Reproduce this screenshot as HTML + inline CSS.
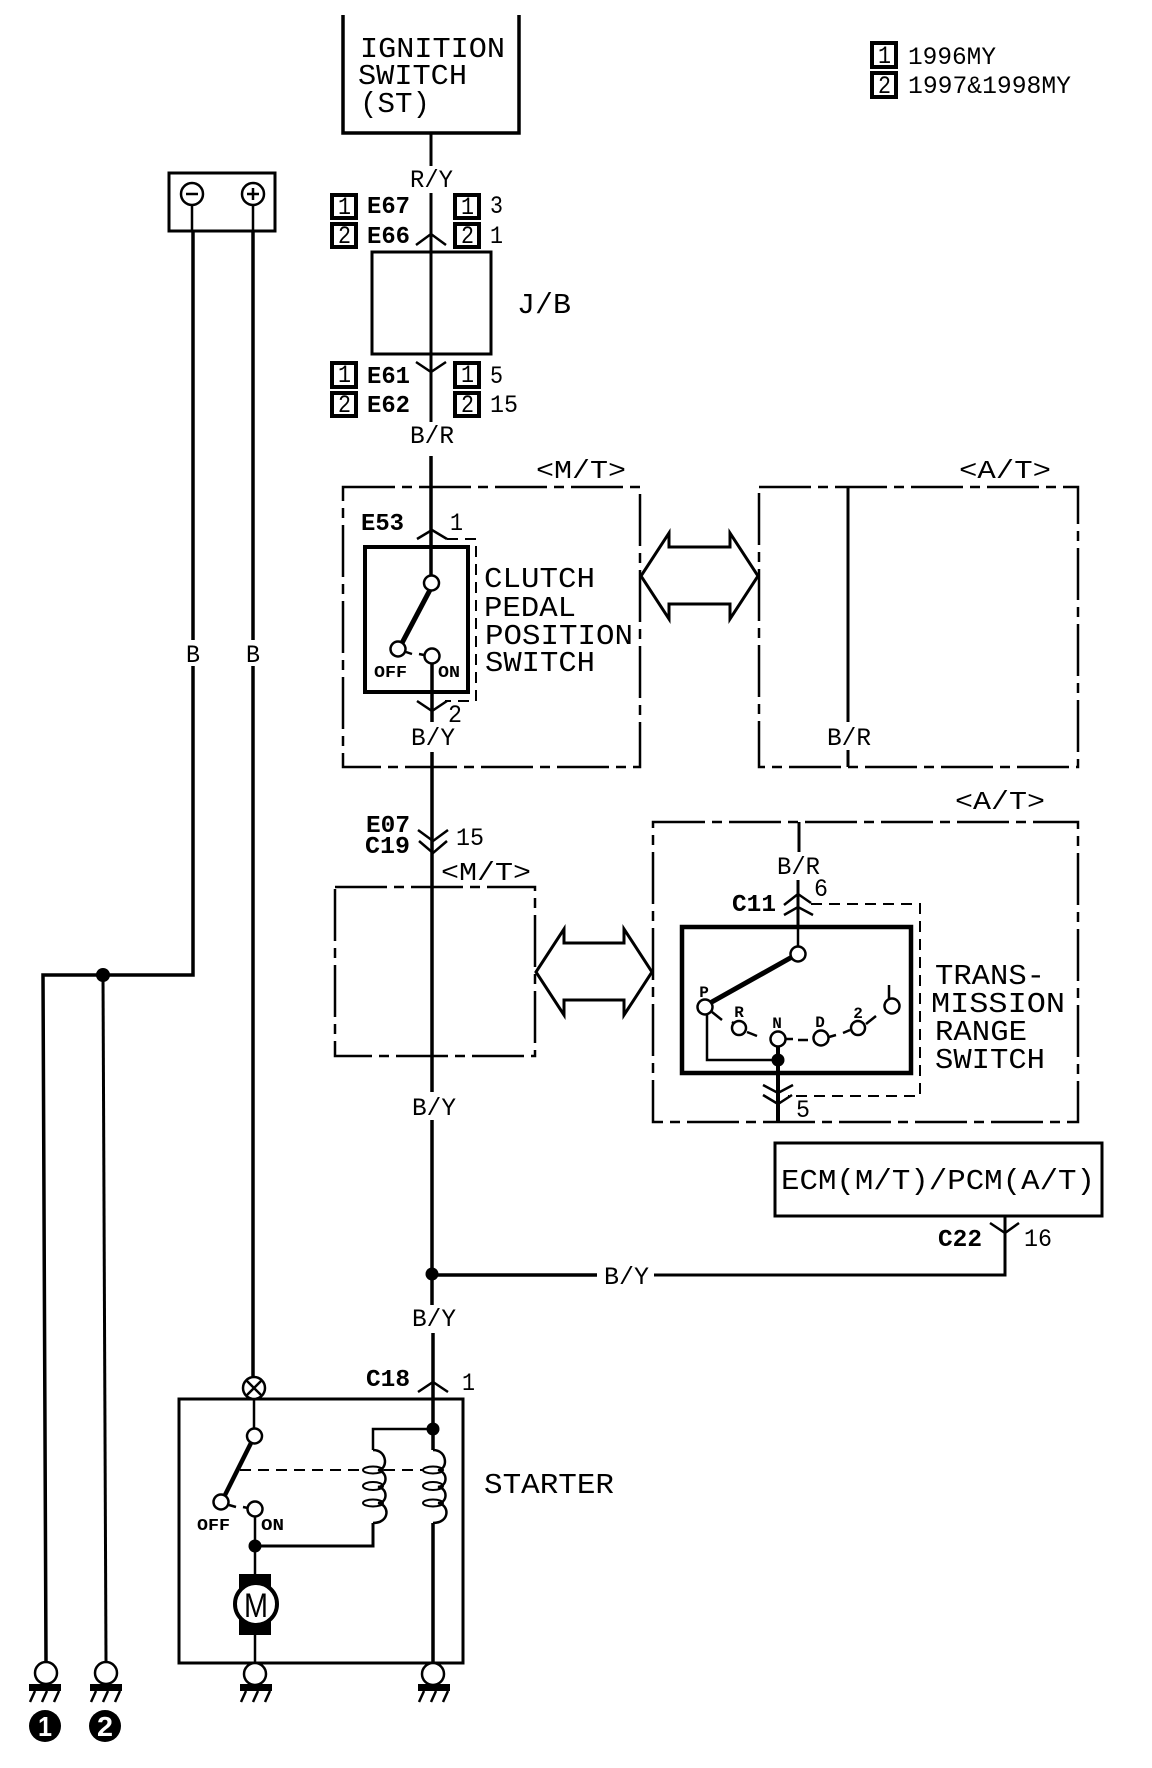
<!DOCTYPE html>
<html>
<head>
<meta charset="utf-8">
<style>
html,body{margin:0;padding:0;background:#fff;}
svg{display:block;}
text{font-family:"Liberation Mono",monospace;fill:#000;}
.b{font-size:24px;font-weight:bold;}
.n{font-size:25px;}
.l{font-size:29px;}
.s{font-size:17px;font-weight:bold;}
.t{font-size:16px;font-weight:bold;text-anchor:middle;}
.w{fill:none;stroke:#000;stroke-width:3;}
.th{fill:none;stroke:#000;stroke-width:4;}
.tn{fill:none;stroke:#000;stroke-width:2.5;}
.dd{fill:none;stroke:#000;stroke-width:2.5;stroke-dasharray:52 7 10 7;}
.d{fill:none;stroke:#000;stroke-width:2;stroke-dasharray:11 7;}
.c{fill:#fff;stroke:#000;stroke-width:2.5;}
.k{fill:#000;}
.bx{fill:#fff;stroke:#000;stroke-width:4;}
</style>
</head>
<body>
<svg xmlns="http://www.w3.org/2000/svg" width="1152" height="1768" viewBox="0 0 1152 1768">
<rect width="1152" height="1768" fill="#fff"/>

<!-- legend -->
<rect class="bx" x="872" y="43" width="24" height="24"/>
<rect class="bx" x="872" y="73" width="24" height="24"/>
<text class="n" x="878" y="63" textLength="13" lengthAdjust="spacingAndGlyphs">1</text>
<text class="n" x="878" y="93" textLength="13" lengthAdjust="spacingAndGlyphs">2</text>
<text class="n" x="908" y="64" textLength="88" lengthAdjust="spacingAndGlyphs">1996MY</text>
<text class="n" x="908" y="93" textLength="163" lengthAdjust="spacingAndGlyphs">1997&amp;1998MY</text>

<!-- ignition -->
<path class="w" d="M343 15V133H519V15" style="stroke-width:3.5"/>
<text class="l" x="360" y="57" textLength="145" lengthAdjust="spacingAndGlyphs">IGNITION</text>
<text class="l" x="358" y="84" textLength="109" lengthAdjust="spacingAndGlyphs">SWITCH</text>
<text class="l" x="360" y="112" textLength="70" lengthAdjust="spacingAndGlyphs">(ST)</text>
<path class="w" d="M431 133V166M431 193V422"/>
<text class="n" x="410" y="187" textLength="43" lengthAdjust="spacingAndGlyphs">R/Y</text>
<path class="tn" d="M416 245L431 234L446 245M416 362L431 372L446 362"/>
<rect class="w" x="372" y="252" width="119" height="102"/>
<text class="l" x="517" y="313" textLength="54" lengthAdjust="spacingAndGlyphs">J/B</text>

<!-- connector labels -->
<g>
<rect class="bx" x="332" y="195" width="24" height="23"/>
<rect class="bx" x="332" y="224" width="24" height="23"/>
<rect class="bx" x="332" y="363" width="24" height="24"/>
<rect class="bx" x="332" y="393" width="24" height="23"/>
<rect class="bx" x="455" y="195" width="24" height="23"/>
<rect class="bx" x="455" y="224" width="24" height="23"/>
<rect class="bx" x="455" y="363" width="24" height="24"/>
<rect class="bx" x="455" y="393" width="24" height="23"/>
<text class="n" x="338" y="214" textLength="13" lengthAdjust="spacingAndGlyphs">1</text>
<text class="n" x="338" y="243" textLength="13" lengthAdjust="spacingAndGlyphs">2</text>
<text class="n" x="338" y="382" textLength="13" lengthAdjust="spacingAndGlyphs">1</text>
<text class="n" x="338" y="412" textLength="13" lengthAdjust="spacingAndGlyphs">2</text>
<text class="n" x="461" y="214" textLength="13" lengthAdjust="spacingAndGlyphs">1</text>
<text class="n" x="461" y="243" textLength="13" lengthAdjust="spacingAndGlyphs">2</text>
<text class="n" x="461" y="382" textLength="13" lengthAdjust="spacingAndGlyphs">1</text>
<text class="n" x="461" y="412" textLength="13" lengthAdjust="spacingAndGlyphs">2</text>
<text class="b" x="367" y="213" textLength="43" lengthAdjust="spacingAndGlyphs">E67</text>
<text class="b" x="367" y="243" textLength="43" lengthAdjust="spacingAndGlyphs">E66</text>
<text class="b" x="367" y="383" textLength="43" lengthAdjust="spacingAndGlyphs">E61</text>
<text class="b" x="367" y="412" textLength="43" lengthAdjust="spacingAndGlyphs">E62</text>
<text class="n" x="490" y="213" textLength="13" lengthAdjust="spacingAndGlyphs">3</text>
<text class="n" x="490" y="243" textLength="13" lengthAdjust="spacingAndGlyphs">1</text>
<text class="n" x="490" y="383" textLength="13" lengthAdjust="spacingAndGlyphs">5</text>
<text class="n" x="490" y="412" textLength="28" lengthAdjust="spacingAndGlyphs">15</text>
</g>
<text class="n" x="410" y="443" textLength="44" lengthAdjust="spacingAndGlyphs">B/R</text>

<!-- M/T box 1 -->
<text class="n" x="536" y="478" textLength="90" lengthAdjust="spacingAndGlyphs" style="font-size:26px">&lt;M/T&gt;</text>
<path class="dd" d="M343 487H640V767H343Z"/>
<path class="w" d="M431 456V583" style="stroke-width:3.5"/>
<text class="b" x="361" y="530" textLength="43" lengthAdjust="spacingAndGlyphs">E53</text>
<text class="n" x="450" y="530" textLength="13" lengthAdjust="spacingAndGlyphs">1</text>
<path class="tn" d="M417 539L432 530L447 539"/>
<path class="d" d="M447 539H476V701H445"/>
<path class="tn" d="M417 701L432 711L447 701"/>
<rect class="th" x="365" y="547" width="103" height="145" style="stroke-width:4"/>
<path class="w" d="M432 664V722" style="stroke-width:3.5"/>
<path d="M431 588L402 643" stroke="#000" stroke-width="5" fill="none"/>
<circle class="c" cx="431.5" cy="583" r="7.5"/>
<circle class="c" cx="398" cy="649" r="7.5"/>
<circle class="c" cx="432" cy="656" r="7.5"/>
<path class="tn" d="M406 652L412 654M419 654L424 655"/>
<text class="s" x="374" y="677" textLength="33" lengthAdjust="spacingAndGlyphs">OFF</text>
<text class="s" x="438" y="677" textLength="22" lengthAdjust="spacingAndGlyphs">ON</text>
<text class="n" x="448" y="722" textLength="14" lengthAdjust="spacingAndGlyphs">2</text>
<text class="n" x="411" y="745" textLength="44" lengthAdjust="spacingAndGlyphs">B/Y</text>
<text class="l" x="484" y="587" textLength="111" lengthAdjust="spacingAndGlyphs">CLUTCH</text>
<text class="l" x="484" y="616" textLength="92" lengthAdjust="spacingAndGlyphs">PEDAL</text>
<text class="l" x="485" y="644" textLength="148" lengthAdjust="spacingAndGlyphs">POSITION</text>
<text class="l" x="485" y="671" textLength="110" lengthAdjust="spacingAndGlyphs">SWITCH</text>

<!-- arrows -->
<path d="M641 576L669 533V547H730V533L758 576L730 619V604H669V619Z" fill="#fff" stroke="#000" stroke-width="3"/>
<path d="M536 972L564 929V943H624V929L652 972L624 1015V1000H564V1015Z" fill="#fff" stroke="#000" stroke-width="3"/>

<!-- A/T box 1 -->
<text class="n" x="959" y="478" textLength="92" lengthAdjust="spacingAndGlyphs" style="font-size:26px">&lt;A/T&gt;</text>
<path class="dd" d="M759 487H1078V767H759Z"/>
<path class="w" d="M848 487V722M848 750V767" style="stroke-width:3"/>
<text class="n" x="827" y="745" textLength="44" lengthAdjust="spacingAndGlyphs">B/R</text>

<!-- middle -->
<text class="b" x="366" y="832" textLength="44" lengthAdjust="spacingAndGlyphs">E07</text>
<text class="b" x="365" y="853" textLength="45" lengthAdjust="spacingAndGlyphs">C19</text>
<path class="tn" d="M418 830L433 841L448 830M419 841L433 853L447 841"/>
<text class="n" x="456" y="845" textLength="28" lengthAdjust="spacingAndGlyphs">15</text>
<text class="n" x="441" y="880" textLength="90" lengthAdjust="spacingAndGlyphs" style="font-size:26px">&lt;M/T&gt;</text>
<path class="dd" d="M335 887H535V1056H335Z"/>
<path class="w" d="M432 752V1092M432 1120V1305M433 1333V1450M433 1523V1663" style="stroke-width:3.5"/>
<text class="n" x="412" y="1115" textLength="44" lengthAdjust="spacingAndGlyphs">B/Y</text>

<!-- A/T box 2 -->
<text class="n" x="955" y="809" textLength="90" lengthAdjust="spacingAndGlyphs" style="font-size:26px">&lt;A/T&gt;</text>
<path class="dd" d="M653 822H1078V1122H653Z"/>
<path class="w" d="M799 822V852M798 880V927"/>
<path class="tn" d="M798 927V946"/>
<text class="n" x="777" y="874" textLength="43" lengthAdjust="spacingAndGlyphs">B/R</text>
<text class="b" x="732" y="911" textLength="44" lengthAdjust="spacingAndGlyphs">C11</text>
<text class="n" x="814" y="896" textLength="14" lengthAdjust="spacingAndGlyphs">6</text>
<path class="tn" d="M784 905L798 894L811 903M784 915L798 907L813 915"/>
<path class="d" d="M811 904H920V1096H788"/>
<rect class="th" x="682" y="927" width="229" height="146" style="stroke-width:4.5"/>
<path d="M792 957L710 1003" stroke="#000" stroke-width="5" fill="none"/>
<path class="tn" d="M707 1012V1060H778"/>
<path class="tn" d="M712 1012L722 1020M732 1022L735 1024M747 1032L757 1036M785 1039L793 1039M798 1040L808 1040M829 1037L836 1035M843 1033L850 1030M866 1024L876 1016"/>
<path class="th" d="M778 1047V1122"/>
<path class="tn" d="M763 1085L778 1093L793 1085M763 1095L778 1104L792 1095"/>
<circle class="k" cx="778" cy="1060" r="6.5"/>
<circle class="c" cx="798" cy="954" r="7.5"/>
<circle class="c" cx="705" cy="1007" r="7.5"/>
<circle class="c" cx="739" cy="1028" r="7"/>
<circle class="c" cx="778" cy="1039" r="7.5"/>
<circle class="c" cx="821" cy="1038" r="7.5"/>
<circle class="c" cx="858" cy="1028" r="7"/>
<circle class="c" cx="892" cy="1006" r="7.5"/>
<text class="t" x="704" y="997">P</text>
<text class="t" x="739" y="1017">R</text>
<text class="t" x="777" y="1028">N</text>
<text class="t" x="820" y="1027">D</text>
<text class="t" x="858" y="1018">2</text>
<path class="tn" d="M889 985V999"/>
<text class="n" x="796" y="1117" textLength="14" lengthAdjust="spacingAndGlyphs">5</text>
<text class="l" x="935" y="984" textLength="110" lengthAdjust="spacingAndGlyphs">TRANS-</text>
<text class="l" x="931" y="1012" textLength="134" lengthAdjust="spacingAndGlyphs">MISSION</text>
<text class="l" x="935" y="1040" textLength="92" lengthAdjust="spacingAndGlyphs">RANGE</text>
<text class="l" x="935" y="1068" textLength="110" lengthAdjust="spacingAndGlyphs">SWITCH</text>

<!-- ECM -->
<rect class="w" x="775" y="1143" width="327" height="73"/>
<text class="l" x="781" y="1189" textLength="314" lengthAdjust="spacingAndGlyphs">ECM(M/T)/PCM(A/T)</text>
<path class="tn" d="M990 1223L1005 1233L1019 1223"/>
<path class="w" d="M1005 1216V1275H654" style="stroke-width:3"/>
<path class="w" d="M597 1275H433" style="stroke-width:3.5"/>
<circle class="k" cx="432" cy="1274" r="6.5"/>
<text class="b" x="938" y="1246" textLength="44" lengthAdjust="spacingAndGlyphs">C22</text>
<text class="n" x="1024" y="1246" textLength="28" lengthAdjust="spacingAndGlyphs">16</text>
<text class="n" x="604" y="1284" textLength="45" lengthAdjust="spacingAndGlyphs">B/Y</text>
<text class="n" x="412" y="1326" textLength="44" lengthAdjust="spacingAndGlyphs">B/Y</text>

<!-- battery -->
<rect class="w" x="169" y="173" width="106" height="58"/>
<circle class="c" cx="192" cy="194" r="11"/>
<circle class="c" cx="253" cy="194" r="11"/>
<path d="M186 194H198M247 194H259M253 188V200" stroke="#000" stroke-width="2.5" fill="none"/>
<path class="tn" d="M192 205V231M253 205V231"/>
<path class="w" d="M193 231V640M193 666V975H43L46 1662" style="stroke-width:3.5"/>
<path class="w" d="M253 231V640M253 666V1376" style="stroke-width:3.5"/>
<path class="w" d="M103 975L106 1662" style="stroke-width:3"/>
<circle class="k" cx="103" cy="975" r="7"/>
<text class="n" x="186" y="662" textLength="14" lengthAdjust="spacingAndGlyphs">B</text>
<text class="n" x="246" y="662" textLength="14" lengthAdjust="spacingAndGlyphs">B</text>

<!-- starter -->
<text class="b" x="366" y="1386" textLength="44" lengthAdjust="spacingAndGlyphs">C18</text>
<text class="n" x="462" y="1390" textLength="13" lengthAdjust="spacingAndGlyphs">1</text>
<path class="tn" d="M418 1392L433 1382L448 1392"/>
<rect class="w" x="179" y="1399" width="284" height="264"/>
<circle class="c" cx="254" cy="1388" r="11"/>
<path d="M246 1380L262 1396M262 1380L246 1396" stroke="#000" stroke-width="2.5" fill="none"/>
<path class="tn" d="M254 1399V1430"/>
<path d="M251 1443L225 1495" stroke="#000" stroke-width="4.5" fill="none"/>
<circle class="c" cx="254.5" cy="1436" r="7.5"/>
<circle class="c" cx="221" cy="1502" r="7.5"/>
<circle class="c" cx="255" cy="1509" r="7.5"/>
<path class="tn" d="M229 1505L236 1507M243 1507L248 1508"/>
<text class="s" x="197" y="1530" textLength="33" lengthAdjust="spacingAndGlyphs">OFF</text>
<text class="s" x="261" y="1530" textLength="23" lengthAdjust="spacingAndGlyphs">ON</text>
<path class="w" d="M255 1517V1574" style="stroke-width:2.5"/>
<path class="w" d="M255 1546H373V1523"/>
<path class="tn" d="M373 1450V1429H433"/>
<circle class="k" cx="433" cy="1429" r="6.5"/>
<circle class="k" cx="255" cy="1546" r="6.5"/>
<path class="d" d="M240 1470H427"/>
<ellipse class="c" cx="373" cy="1470" rx="10" ry="3.5" style="stroke-width:2"/>
<ellipse class="c" cx="373" cy="1486" rx="10" ry="4" style="stroke-width:2"/>
<ellipse class="c" cx="373" cy="1503" rx="10" ry="3.5" style="stroke-width:2"/>
<ellipse class="c" cx="433" cy="1470" rx="10" ry="3.5" style="stroke-width:2"/>
<ellipse class="c" cx="433" cy="1486" rx="10" ry="4" style="stroke-width:2"/>
<ellipse class="c" cx="433" cy="1503" rx="10" ry="3.5" style="stroke-width:2"/>
<path class="tn" d="M373 1450C388 1450 388 1470 378 1470C388 1472 388 1486 378 1487C388 1488 388 1503 378 1503C390 1505 390 1523 373 1523"/>
<path class="tn" d="M433 1450C448 1450 448 1470 438 1470C448 1472 448 1486 438 1487C448 1488 448 1503 438 1503C450 1505 450 1523 433 1523"/>
<text class="l" x="484" y="1493" textLength="130" lengthAdjust="spacingAndGlyphs">STARTER</text>

<!-- motor -->
<rect class="k" x="239" y="1574" width="32" height="61"/>
<circle cx="256" cy="1604" r="21" fill="#fff" stroke="#000" stroke-width="4"/>
<text x="244" y="1617" textLength="24" lengthAdjust="spacingAndGlyphs" style="font-family:'Liberation Sans',sans-serif;font-size:34px">M</text>
<path class="w" d="M255 1635V1663" style="stroke-width:2.5"/>

<!-- grounds -->
<g>
<circle class="c" cx="255" cy="1674" r="11"/>
<rect class="k" x="240" y="1684" width="32" height="7"/>
<circle class="c" cx="433" cy="1674" r="11"/>
<rect class="k" x="418" y="1684" width="32" height="7"/>
<circle class="c" cx="46" cy="1673" r="11"/>
<rect class="k" x="29" y="1684" width="32" height="7"/>
<circle class="c" cx="106" cy="1673" r="11"/>
<rect class="k" x="90" y="1684" width="32" height="7"/>
<path class="w" d="M246 1691L241 1702M258 1691L253 1702M270 1691L265 1702M424 1691L419 1702M436 1691L431 1702M448 1691L443 1702M35 1691L30 1702M47 1691L42 1702M59 1691L54 1702M96 1691L91 1702M108 1691L103 1702M120 1691L115 1702" style="stroke-width:2.5"/>
</g>
<circle class="k" cx="45" cy="1726" r="16"/>
<circle class="k" cx="105" cy="1726" r="16"/>
<text x="38" y="1736" textLength="14" lengthAdjust="spacingAndGlyphs" style="font-family:'Liberation Sans',sans-serif;font-weight:bold;font-size:28px;fill:#fff">1</text>
<text x="97" y="1736" textLength="16" lengthAdjust="spacingAndGlyphs" style="font-family:'Liberation Sans',sans-serif;font-weight:bold;font-size:28px;fill:#fff">2</text>
</svg>
</body>
</html>
